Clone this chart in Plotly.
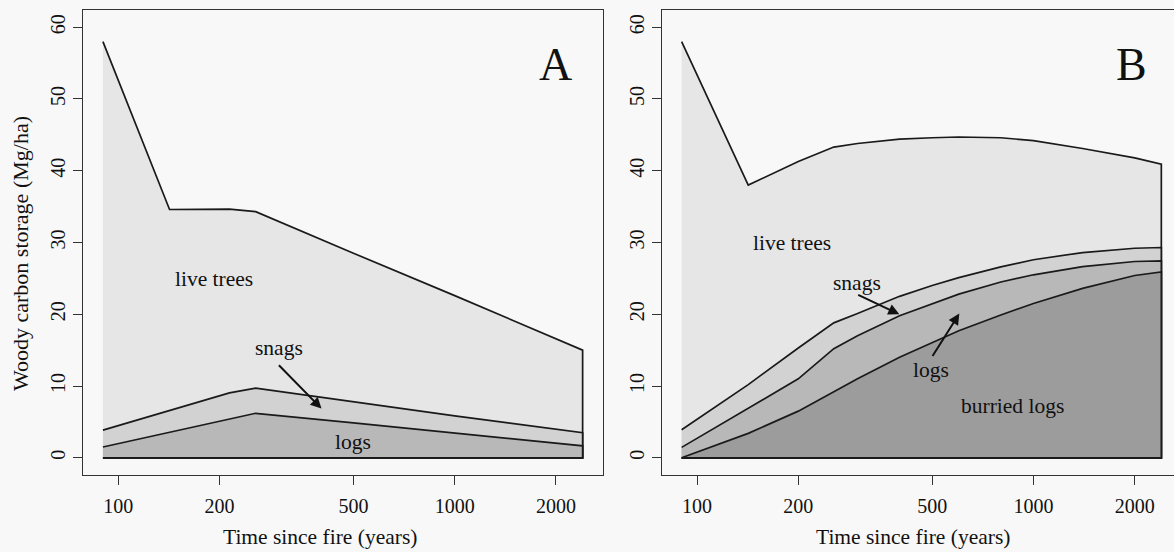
import math
import plotly.graph_objects as go

# ---------------- data ----------------
# Panel A (years since fire, cumulative tops in Mg/ha)
a_years = [90, 142, 214, 256, 500, 1000, 2400]
a_live_total = [58.0, 34.6, 34.65, 34.3, 28.5, 22.6, 15.0]   # live trees + snags + logs
a_snags_top = [3.85, 6.6, 9.05, 9.7, 7.8, 5.85, 3.5]          # snags + logs
a_logs_top = [1.5, 3.55, 5.4, 6.2, 4.85, 3.45, 1.67]          # logs

# Panel B
b_years = [90, 142, 200, 255, 300, 400, 500, 600, 800, 1000, 1400, 2000, 2400]
b_live_total = [58.0, 38.0, 41.3, 43.3, 43.8, 44.4, 44.6, 44.7, 44.6, 44.2, 43.1, 41.8, 40.9]
b_snags_top = [3.9, 10.2, 15.3, 18.8, 20.1, 22.5, 24.0, 25.1, 26.6, 27.6, 28.6, 29.2, 29.3]
b_logs_top = [1.45, 6.9, 11.0, 15.2, 17.0, 19.8, 21.5, 22.8, 24.5, 25.5, 26.65, 27.35, 27.45]
b_buried_top = [0.0, 3.4, 6.5, 9.2, 11.0, 14.0, 16.1, 17.7, 19.9, 21.5, 23.6, 25.4, 25.9]

x_ticks = [100, 200, 500, 1000, 2000]
y_ticks = [0, 10, 20, 30, 40, 50, 60]

# ---------------- style ----------------
W, H = 1174, 552
BG = "#f8f8f8"
C_LIVE, C_SNAG, C_LOG, C_BUR = "#e6e6e6", "#d2d2d2", "#b8b8b8", "#9c9c9c"
LINE = "#1a1a1a"
FONT = "Liberation Serif, Times New Roman, serif"
FS_TICK = 20
FS_LAB = 21.5

fig = go.Figure()


def layer(xs, top, color, xa, ya):
    px = list(xs) + list(xs[::-1])
    py = list(top) + [0.0] * len(xs)
    fig.add_trace(go.Scatter(x=px, y=py, mode="lines", fill="toself", fillcolor=color,
                             line=dict(color=LINE, width=1.7), xaxis=xa, yaxis=ya,
                             hoverinfo="skip", showlegend=False))


layer(a_years, a_live_total, C_LIVE, "x", "y")
layer(a_years, a_snags_top, C_SNAG, "x", "y")
layer(a_years, a_logs_top, C_LOG, "x", "y")

layer(b_years, b_live_total, C_LIVE, "x2", "y2")
layer(b_years, b_snags_top, C_SNAG, "x2", "y2")
layer(b_years, b_logs_top, C_LOG, "x2", "y2")
layer(b_years, b_buried_top, C_BUR, "x2", "y2")

# ---------------- axes ----------------
px_dec = 336.4
xlo = 1.895
xa_dom = [83 / W, 603 / W]
xb_dom = [661.7 / W, 1.0]
y_dom = [77 / H, 542 / H]

common_x = dict(type="log", tickvals=x_ticks, ticktext=[str(v) for v in x_ticks],
                ticks="outside", ticklen=9, tickwidth=1.3, tickcolor="#333",
                showgrid=False, zeroline=False, showline=True, linecolor="#333", linewidth=1.3,
                tickfont=dict(family=FONT, size=FS_TICK, color="#111"), ticklabelstandoff=4)
common_y = dict(range=[-2.4, 62.4], tickvals=y_ticks, tickangle=-90,
                ticks="outside", ticklen=9, tickwidth=1.3, tickcolor="#333",
                showgrid=False, zeroline=False, showline=True, linecolor="#333", linewidth=1.3,
                tickfont=dict(family=FONT, size=FS_TICK, color="#111"), domain=y_dom,
                ticklabelstandoff=0)

fig.update_layout(
    width=W, height=H, margin=dict(l=0, r=0, t=0, b=0),
    paper_bgcolor=BG, plot_bgcolor=BG, showlegend=False,
    font=dict(family=FONT, size=FS_LAB, color="#111"),
    xaxis=dict(common_x, domain=xa_dom, range=[xlo, xlo + 520 / px_dec], mirror=True, anchor="y"),
    yaxis=dict(common_y, anchor="x", mirror=True),
    xaxis2=dict(common_x, domain=xb_dom, range=[xlo, xlo + (W - 661.7) / px_dec], mirror=True, anchor="y2"),
    yaxis2=dict(common_y, anchor="x2", mirror=False),
)

# axis titles (paper coordinates)
title_font = dict(family=FONT, size=FS_LAB, color="#111")
for cx in (320, 913):
    fig.add_annotation(text="Time since fire (years)", x=cx / W, y=1 - 537 / H,
                       xref="paper", yref="paper", xanchor="center", yanchor="middle",
                       showarrow=False, font=title_font)
fig.add_annotation(text="Woody carbon storage (Mg/ha)", x=20 / W, y=1 - 254 / H,
                   xref="paper", yref="paper", xanchor="center", yanchor="middle",
                   showarrow=False, textangle=-90, font=dict(family=FONT, size=22, color="#111"))

L = math.log10


def label(text, x, y, xr, yr, size=FS_LAB):
    fig.add_annotation(text=text, x=L(x), y=y, xref=xr, yref=yr, showarrow=False,
                       xanchor="center", yanchor="middle",
                       font=dict(family=FONT, size=size, color="#111"))


def arrow(x_head, y_head, x_tail, y_tail, xr, yr):
    fig.add_annotation(text="", x=L(x_head), y=y_head, ax=L(x_tail), ay=y_tail,
                       xref=xr, yref=yr, axref=xr, ayref=yr, showarrow=True,
                       arrowhead=2, arrowsize=1.1, arrowwidth=2, arrowcolor="#111", standoff=0)


# Panel A labels
label("live trees", 10 ** 2.2845, 24.9, "x", "y")
label("snags", 10 ** 2.4765, 15.3, "x", "y")
label("logs", 10 ** 2.697, 2.2, "x", "y")
label("A", 10 ** 3.301, 54.8, "x", "y", size=46)
arrow(10 ** 2.604, 6.85, 10 ** 2.473, 13.1, "x", "y")

# Panel B labels
label("live trees", 10 ** 2.2836, 29.9, "x2", "y2")
label("snags", 10 ** 2.4747, 24.4, "x2", "y2")
label("logs", 10 ** 2.697, 12.3, "x2", "y2")
label("burried logs", 10 ** 2.9385, 7.25, "x2", "y2")
label("B", 10 ** 3.293, 54.8, "x2", "y2", size=46)
arrow(10 ** 2.6014, 20.0, 10 ** 2.4747, 22.8, "x2", "y2")
arrow(10 ** 2.7797, 20.1, 10 ** 2.6974, 13.98, "x2", "y2")

fig.write_html("out.html")
